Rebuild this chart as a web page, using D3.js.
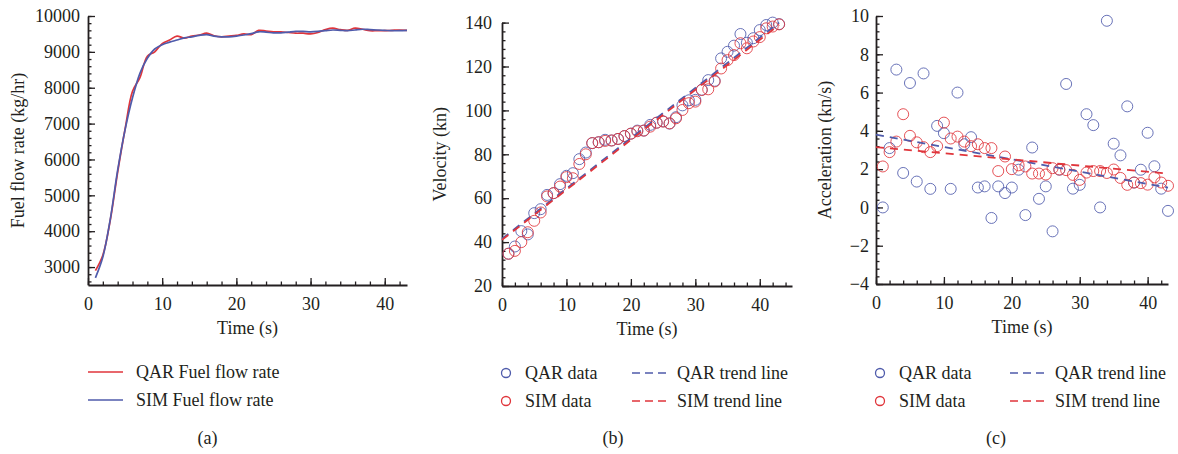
<!DOCTYPE html>
<html>
<head>
<meta charset="utf-8">
<script src="https://cdn.jsdelivr.net/npm/d3@7"></script>
<style>
body { margin: 0; background: #fff; }
svg text { font-family: "Liberation Serif", "DejaVu Serif", serif; fill: #231f20; font-size: 18px; }
</style>
</head>
<body>
<svg id="chart" width="1178" height="454"></svg>
<script>
// time axis (s), one sample per second
const timeSec = [1,2,3,4,5,6,7,8,9,10,11,12,13,14,15,16,17,18,19,20,21,22,23,24,25,26,27,28,29,30,31,32,33,34,35,36,37,38,39,40,41,42,43];

// (a) fuel flow rate, kg/hr
const fuelQAR = [2900,3330,4300,5650,6850,7900,8280,8880,9000,9230,9330,9440,9380,9440,9470,9520,9450,9420,9440,9460,9500,9480,9600,9580,9560,9560,9540,9520,9520,9500,9540,9620,9660,9620,9600,9660,9630,9590,9590,9590,9600,9610,9600];
const fuelSIM = [2700,3280,4330,5700,6830,7720,8400,8820,9080,9200,9270,9330,9390,9420,9460,9480,9440,9420,9420,9440,9470,9510,9560,9550,9530,9530,9550,9570,9570,9560,9570,9590,9610,9600,9590,9610,9630,9620,9610,9600,9590,9590,9600];

// (b) velocity, kn
const velQAR = [34.7,38.0,45.0,43.5,53.2,55.0,61.5,62.3,66.4,70.2,71.4,77.8,80.8,85.1,85.5,86.6,86.3,87.0,88.3,89.4,90.8,90.8,93.4,94.4,95.0,94.0,96.9,102.3,104.6,104.8,109.4,113.8,113.5,123.7,126.7,129.5,134.8,130.8,132.9,136.6,138.9,140.0,139.3];
const velSIM = [34.7,36.0,40.0,44.5,49.7,53.5,60.8,62.3,65.3,69.6,69.1,75.6,80.0,85.1,85.5,86.1,86.3,87.0,88.3,89.4,90.5,90.8,92.6,94.4,94.9,94.1,96.4,100.2,103.3,104.0,109.3,109.6,113.2,119.1,122.9,125.2,130.6,128.3,131.4,133.4,137.4,138.2,139.2];
const velTrendT = [0, 43];
const velTrendQAR = [41.5, 140.0];
const velTrendSIM = [41.0, 139.0];

// (c) acceleration, kn/s
const accQAR = [0.0,3.1,7.2,1.8,6.5,1.35,7.0,0.97,4.26,3.88,0.97,6.0,3.3,3.67,1.04,1.1,-0.55,1.1,0.75,1.04,1.97,-0.4,3.13,0.45,1.1,-1.25,1.97,6.45,0.98,1.18,4.87,4.3,0.0,9.75,3.33,2.72,5.28,1.3,1.97,3.9,2.15,0.98,-0.18];
const accSIM = [2.14,2.89,3.44,4.87,3.74,3.4,3.15,2.89,3.2,4.43,3.6,3.7,3.44,3.2,3.3,3.1,3.1,1.9,2.66,2.0,2.2,2.14,1.77,1.77,1.72,2.05,1.98,1.95,1.7,1.44,1.82,1.9,1.9,1.8,1.98,1.54,1.18,1.3,1.27,1.19,1.57,1.3,1.13];
const accTrendT = [0, 43];
const accTrendQAR = [3.8, 1.03];
const accTrendSIM = [3.15, 1.77];

// tick labels
const xMajor = [0, 10, 20, 30, 40];
const fuelTicks = [3000, 4000, 5000, 6000, 7000, 8000, 9000, 10000];
const velTicks = [20, 40, 60, 80, 100, 120, 140];
const accTicks = [-4, -2, 0, 2, 4, 6, 8, 10];

const RED = '#e0353b';
const BLUE = '#4f5bab';
const INK = '#231f20';

const svg = d3.select('#chart');

function range(a, b, s) {
    let out = [];
    for (let v = a; v <= b + 1e-9; v += s) out.push(+v.toFixed(4));
    return out;
}

function makePanel(cfg) {
    const g = svg.append('g');
    const x = d3.scaleLinear().domain(cfg.xDomain).range([cfg.left, cfg.right]);
    const y = d3.scaleLinear().domain(cfg.yDomain).range([cfg.bottom, cfg.top]);

    // minor ticks
    g.append('g').attr('class', 'minor')
        .attr('transform', `translate(0,${cfg.bottom})`)
        .call(d3.axisBottom(x).tickValues(cfg.xMinor).tickSize(-3.5).tickFormat(''));
    g.append('g').attr('class', 'minor')
        .attr('transform', `translate(${cfg.left},0)`)
        .call(d3.axisLeft(y).tickValues(cfg.yMinor).tickSize(-3.5).tickFormat(''));
    g.selectAll('.minor .domain').remove();

    // major axes
    const xa = g.append('g')
        .attr('transform', `translate(0,${cfg.bottom})`)
        .call(d3.axisBottom(x).tickValues(xMajor).tickSize(-7).tickSizeOuter(0).tickPadding(12).tickFormat(d3.format('d')));
    const ya = g.append('g')
        .attr('transform', `translate(${cfg.left},0)`)
        .call(d3.axisLeft(y).tickValues(cfg.yTicks).tickSize(-7).tickSizeOuter(0).tickPadding(cfg.yPad).tickFormat(d3.format('d')));

    g.selectAll('.tick line').attr('stroke', INK).attr('stroke-width', 1.3);
    g.selectAll('.domain').attr('stroke', INK).attr('stroke-width', 1.8);
    g.selectAll('.tick text').attr('font-size', 18).attr('font-family', null).attr('fill', INK);

    g.append('text')
        .attr('x', (cfg.left + cfg.right) / 2)
        .attr('y', cfg.bottom + 49)
        .attr('text-anchor', 'middle')
        .text('Time (s)');

    g.append('text')
        .attr('transform', `translate(${cfg.ylabelX},${(cfg.top + cfg.bottom) / 2}) rotate(-90)`)
        .attr('text-anchor', 'middle')
        .text(cfg.ylabel);

    g.append('text')
        .attr('x', (cfg.left + cfg.right) / 2 + cfg.tagShift)
        .attr('y', 444)
        .attr('text-anchor', 'middle')
        .text(cfg.tag);

    return { g, x, y };
}

// ---------- (a) ----------
const pa = makePanel({
    left: 88, right: 407, top: 16, bottom: 285,
    xDomain: [0, 43], yDomain: [2500, 10000],
    xMinor: range(0, 42, 2), yMinor: range(2600, 10000, 200),
    yTicks: fuelTicks, yPad: 8, ylabelX: 24,
    ylabel: 'Fuel flow rate (kg/hr)', tag: '(a)', tagShift: -40
});

const fuelLine = (vals) => d3.line()
    .x((d, i) => pa.x(timeSec[i]))
    .y(d => pa.y(d))
    .curve(d3.curveCatmullRom.alpha(0.5))(vals);

pa.g.append('path').attr('d', fuelLine(fuelQAR))
    .attr('fill', 'none').attr('stroke', RED).attr('stroke-width', 1.7);
pa.g.append('path').attr('d', fuelLine(fuelSIM))
    .attr('fill', 'none').attr('stroke', BLUE).attr('stroke-width', 1.7);

const legA = [
    { name: 'QAR Fuel flow rate', color: RED, y: 372 },
    { name: 'SIM Fuel flow rate', color: BLUE, y: 400 }
];
legA.forEach(d => {
    pa.g.append('line').attr('x1', 88).attr('x2', 123).attr('y1', d.y).attr('y2', d.y)
        .attr('stroke', d.color).attr('stroke-width', 1.7);
    pa.g.append('text').attr('x', 136).attr('y', d.y).attr('dy', '0.33em').text(d.name);
});

// ---------- scatter panels ----------
function scatterPanel(p, qar, sim, trendT, trendQ, trendS, leg) {
    const line = (vals) => d3.line()
        .x((d, i) => p.x(trendT[i]))
        .y(d => p.y(d))(vals);

    [[qar, BLUE], [sim, RED]].forEach(([vals, color]) => {
        p.g.append('g').selectAll('circle')
            .data(vals)
            .join('circle')
            .attr('cx', (d, i) => p.x(timeSec[i]))
            .attr('cy', d => p.y(d))
            .attr('r', 5.5)
            .attr('fill', 'none')
            .attr('stroke', color)
            .attr('stroke-opacity', 0.85)
            .attr('stroke-width', 1);
    });

    p.g.append('path').attr('d', line(trendQ))
        .attr('fill', 'none').attr('stroke', BLUE).attr('stroke-width', 1.8)
        .attr('stroke-dasharray', '8,6');
    p.g.append('path').attr('d', line(trendS))
        .attr('fill', 'none').attr('stroke', RED).attr('stroke-width', 1.8)
        .attr('stroke-dasharray', '8,6');

    const rows = [
        { dot: 'QAR data', trend: 'QAR trend line', color: BLUE, y: 373 },
        { dot: 'SIM data', trend: 'SIM trend line', color: RED, y: 401 }
    ];
    rows.forEach(r => {
        p.g.append('circle').attr('cx', leg.cx).attr('cy', r.y).attr('r', 4.5)
            .attr('fill', 'none').attr('stroke', r.color).attr('stroke-width', 1.3);
        p.g.append('text').attr('x', leg.cx + 19).attr('y', r.y).attr('dy', '0.33em').text(r.dot);
        p.g.append('line').attr('x1', leg.lx).attr('x2', leg.lx + 34).attr('y1', r.y).attr('y2', r.y)
            .attr('stroke', r.color).attr('stroke-width', 1.5).attr('stroke-dasharray', '8,5');
        p.g.append('text').attr('x', leg.lx + 45).attr('y', r.y).attr('dy', '0.33em').text(r.trend);
    });
}

// ---------- (b) ----------
const pb = makePanel({
    left: 502, right: 792, top: 22.6, bottom: 286,
    xDomain: [0, 45], yDomain: [20, 140],
    xMinor: range(0, 44, 2), yMinor: range(20, 140, 4),
    yTicks: velTicks, yPad: 10, ylabelX: 446,
    ylabel: 'Velocity (kn)', tag: '(b)', tagShift: -34
});
scatterPanel(pb, velQAR, velSIM, velTrendT, velTrendQAR, velTrendSIM, { cx: 506, lx: 632 });

// ---------- (c) ----------
const pc = makePanel({
    left: 876, right: 1168, top: 16, bottom: 284,
    xDomain: [0, 43], yDomain: [-4, 10],
    xMinor: range(0, 42, 2), yMinor: range(-4, 10, 0.4),
    yTicks: accTicks, yPad: 7, ylabelX: 831,
    ylabel: 'Acceleration (kn/s)', tag: '(c)', tagShift: -26
});
scatterPanel(pc, accQAR, accSIM, accTrendT, accTrendQAR, accTrendSIM, { cx: 880, lx: 1010 });
</script>
</body>
</html>
